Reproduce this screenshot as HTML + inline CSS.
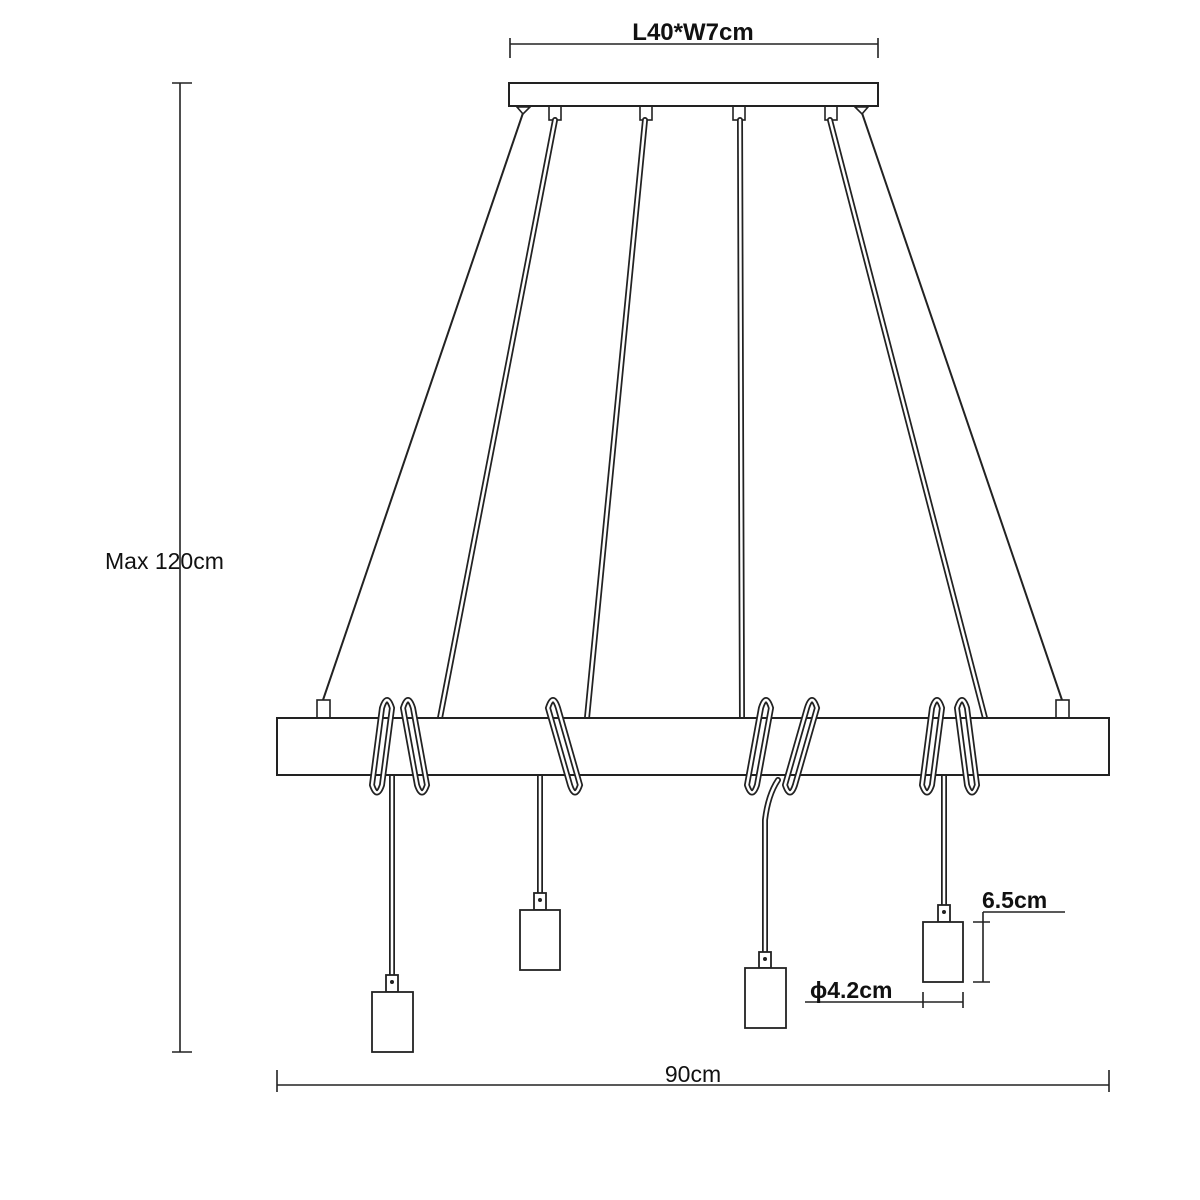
<!DOCTYPE html><html><head><style>body{margin:0;background:#fff}svg{display:block}text{font-family:"Liberation Sans",sans-serif;fill:#111}</style></head><body>
<svg width="1200" height="1200" viewBox="0 0 1200 1200">
<g stroke="#222" fill="none" stroke-width="1.6">
<line x1="510" y1="44" x2="878" y2="44"/><line x1="510" y1="38" x2="510" y2="58"/><line x1="878" y1="38" x2="878" y2="58"/>
<rect x="509" y="83" width="369" height="23" stroke-width="2"/>
<rect x="549" y="106" width="12" height="14"/><rect x="640" y="106" width="12" height="14"/><rect x="733" y="106" width="12" height="14"/><rect x="825" y="106" width="12" height="14"/>
<path d="M517 107 L530 107 L523 114Z"/><path d="M855 107 L868 107 L862 114Z"/>
<line x1="523" y1="113" x2="323" y2="700" stroke-width="2"/><line x1="862" y1="113" x2="1062" y2="700" stroke-width="2"/>
<rect x="317" y="700" width="13" height="18"/><rect x="1056" y="700" width="13" height="18"/>
<line x1="180" y1="83" x2="180" y2="1052"/><line x1="172" y1="83" x2="192" y2="83"/><line x1="172" y1="1052" x2="192" y2="1052"/>
<line x1="277" y1="1085" x2="1109" y2="1085"/><line x1="277" y1="1070" x2="277" y2="1092"/><line x1="1109" y1="1070" x2="1109" y2="1092"/>
</g>
<g fill="none" stroke-linecap="round">
<g stroke="#222" stroke-width="6">
<path d="M555 120 L440 718"/><path d="M645 120 L587 718"/><path d="M740 120 L742 718"/><path d="M830 120 L985 718"/>
<path d="M392 975 L392 775"/><path d="M540 893 L540 775"/><path d="M765 952 L765 820 Q768 795 778 780"/><path d="M944 905 L944 775"/>
</g>
<g stroke="#fff" stroke-width="2.5">
<path d="M555 120 L440 718"/><path d="M645 120 L587 718"/><path d="M740 120 L742 718"/><path d="M830 120 L985 718"/>
<path d="M392 975 L392 775"/><path d="M540 893 L540 775"/><path d="M765 952 L765 820 Q768 795 778 780"/><path d="M944 905 L944 775"/>
</g>
</g>
<rect x="277" y="718" width="832" height="57" fill="#fff" stroke="#222" stroke-width="2"/>
<g fill="none" stroke-linecap="round">
<g stroke="#222" stroke-width="6">
<path d="M372 785 L382 708 Q387 692 392 708 L382 785 Q377 800 372 785"/>
<path d="M403 708 Q408 692 413 708 L427 785 Q422 800 417 785 Z"/>
<path d="M548 708 Q553 692 558 708 L580 785 Q575 800 570 785 Z"/>
<path d="M747 785 L761 708 Q766 692 771 708 L757 785 Q752 800 747 785"/>
<path d="M785 785 L807 708 Q812 692 817 708 L795 785 Q790 800 785 785"/>
<path d="M922 785 L932 708 Q937 692 942 708 L932 785 Q927 800 922 785"/>
<path d="M957 708 Q962 692 967 708 L977 785 Q972 800 967 785 Z"/>
</g>
<g stroke="#fff" stroke-width="2.5">
<path d="M372 785 L382 708 Q387 692 392 708 L382 785 Q377 800 372 785"/>
<path d="M403 708 Q408 692 413 708 L427 785 Q422 800 417 785 Z"/>
<path d="M548 708 Q553 692 558 708 L580 785 Q575 800 570 785 Z"/>
<path d="M747 785 L761 708 Q766 692 771 708 L757 785 Q752 800 747 785"/>
<path d="M785 785 L807 708 Q812 692 817 708 L795 785 Q790 800 785 785"/>
<path d="M922 785 L932 708 Q937 692 942 708 L932 785 Q927 800 922 785"/>
<path d="M957 708 Q962 692 967 708 L977 785 Q972 800 967 785 Z"/>
</g>
</g>
<g fill="#fff" stroke="#222" stroke-width="1.8">
<rect x="386" y="975" width="12" height="17"/><rect x="372" y="992" width="41" height="60"/>
<rect x="534" y="893" width="12" height="17"/><rect x="520" y="910" width="40" height="60"/>
<rect x="759" y="952" width="12" height="16"/><rect x="745" y="968" width="41" height="60"/>
<rect x="938" y="905" width="12" height="17"/><rect x="923" y="922" width="40" height="60"/>
</g>
<g fill="#222"><circle cx="392" cy="982" r="2"/><circle cx="540" cy="900" r="2"/><circle cx="765" cy="959" r="2"/><circle cx="944" cy="912" r="2"/></g>
<g stroke="#222" stroke-width="1.6" fill="none">
<line x1="983" y1="912" x2="1065" y2="912"/><line x1="983" y1="912" x2="983" y2="922"/>
<line x1="983" y1="922" x2="983" y2="982"/><line x1="973" y1="922" x2="990" y2="922"/><line x1="973" y1="982" x2="990" y2="982"/>
<line x1="805" y1="1002" x2="963" y2="1002"/><line x1="923" y1="992" x2="923" y2="1008"/><line x1="963" y1="992" x2="963" y2="1008"/>
</g>
<text x="693" y="40" font-size="24" text-anchor="middle" font-weight="bold">L40*W7cm</text>
<text x="105" y="569" font-size="23">Max 120cm</text>
<text x="693" y="1082" font-size="23" text-anchor="middle">90cm</text>
<text x="982" y="908" font-size="23" font-weight="bold">6.5cm</text>
<text x="810" y="998" font-size="23" font-weight="bold">ϕ4.2cm</text>
</svg>
</body></html>
